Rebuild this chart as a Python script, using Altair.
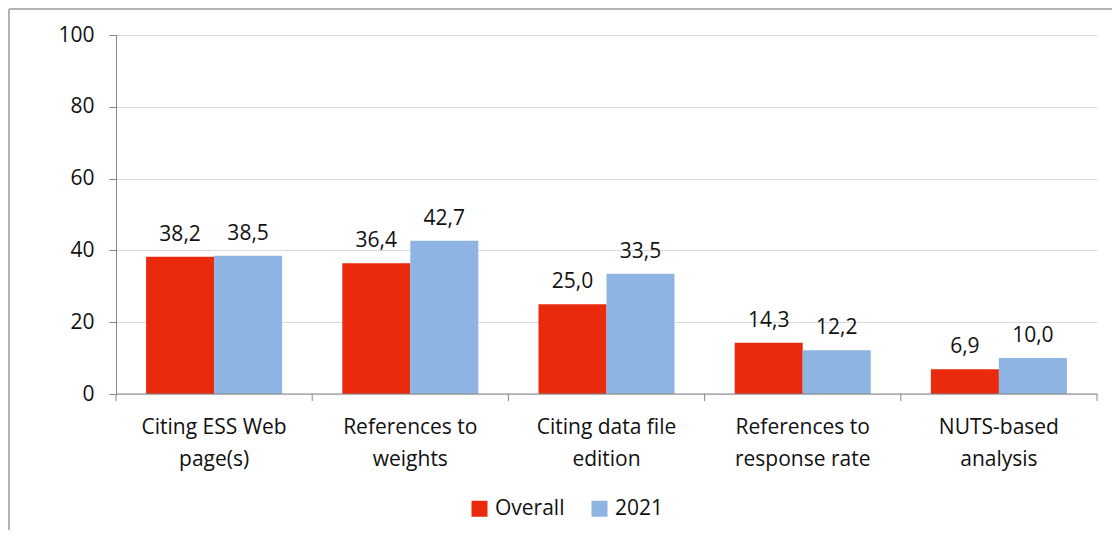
import altair as alt
import pandas as pd

categories = ["Citing ESS Web\npage(s)", "References to\nweights", "Citing data file\nedition",
              "References to\nresponse rate", "NUTS-based\nanalysis"]
series = ["Overall", "2021"]
overall = [38.2, 36.4, 25.0, 14.3, 6.9]
y2021 = [38.5, 42.7, 33.5, 12.2, 10.0]
colors = ["#E92A0C", "#8EB4E3"]

rows = []
for c, a, b in zip(categories, overall, y2021):
    for s, v in zip(series, [a, b]):
        rows.append({"cat": c, "series": s, "value": v, "label": f"{v:.1f}".replace(".", ",")})
df = pd.DataFrame(rows)

W, H = 981, 359
PAD_L, PAD_T, PAD_R, PAD_B = 108, 27, 15, 136
FONT = "Open Sans"
FS = 21
TXT = "#111111"

xscale = alt.Scale(domain=categories, paddingInner=0, paddingOuter=0)
xoff = alt.Scale(domain=series, paddingInner=0, paddingOuter=0.4425)
yscale = alt.Scale(domain=[0, 100])

base = alt.Chart(df)

bars = base.mark_bar().encode(
    x=alt.X("cat:N", scale=xscale, sort=categories,
            axis=alt.Axis(title=None, labelAngle=0, ticks=False, domain=False,
                          labelExpr="split(datum.label, '\\n')", labelFontSize=FS,
                          labelLineHeight=32, labelPadding=22, labelColor=TXT,
                          labelFont=FONT, labelBaseline="top")),
    xOffset=alt.XOffset("series:N", scale=xoff, sort=series),
    y=alt.Y("value:Q", scale=yscale,
            axis=alt.Axis(title=None, values=[0, 20, 40, 60, 80, 100], tickSize=7,
                          tickColor="#868686", domainColor="#868686", gridColor="#d9d9d9",
                          labelFontSize=FS, labelPadding=15, labelColor=TXT, labelFont=FONT)),
    color=alt.Color("series:N", scale=alt.Scale(domain=series, range=colors),
                    legend=alt.Legend(title=None, orient="none", legendX=353, legendY=463,
                                      direction="horizontal", symbolType="square",
                                      symbolSize=256, symbolStrokeWidth=0, labelFontSize=FS,
                                      labelFont=FONT, labelColor=TXT, labelOffset=5,
                                      columnPadding=24, padding=0)),
)

texts = base.mark_text(fontSize=FS, font=FONT, color=TXT, baseline="alphabetic", dy=-16).encode(
    x=alt.X("cat:N", scale=xscale, sort=categories),
    xOffset=alt.XOffset("series:N", scale=xoff, sort=series),
    y=alt.Y("value:Q", scale=yscale),
    text="label:N",
)

tick_df = pd.DataFrame({"cat": categories})
ticks = alt.Chart(tick_df).mark_rule(color="#868686").encode(
    x=alt.X("cat:N", scale=xscale, sort=categories, bandPosition=0),
    y=alt.value(H), y2=alt.value(H + 7),
)
last_tick = alt.Chart(tick_df.head(1)).mark_rule(color="#868686").encode(
    x=alt.value(W), y=alt.value(H), y2=alt.value(H + 7),
)
xdomain = alt.Chart(tick_df.head(1)).mark_rule(color="#868686").encode(
    x=alt.value(0), x2=alt.value(W), y=alt.value(H),
)

frame_top = alt.Chart(tick_df.head(1)).mark_rule(color="#b3b3b3", strokeWidth=2).encode(
    x=alt.value(-PAD_L + 1), x2=alt.value(W + PAD_R + 20), y=alt.value(-PAD_T + 1),
)
frame_left = alt.Chart(tick_df.head(1)).mark_rule(color="#b3b3b3", strokeWidth=2).encode(
    x=alt.value(-PAD_L + 1), y=alt.value(-PAD_T + 1), y2=alt.value(H + PAD_B + 20),
)

chart = alt.layer(bars, texts, ticks, last_tick, xdomain, frame_top, frame_left).properties(
    width=W, height=H,
    autosize=alt.AutoSizeParams(type="none"),
    padding={"left": PAD_L, "top": PAD_T, "right": PAD_R, "bottom": PAD_B},
).configure_view(stroke=None).configure_axis(grid=True)
chart = chart.configure_axisX(grid=False)

chart.save("out.html", embed_options={"renderer": "svg", "actions": False})
